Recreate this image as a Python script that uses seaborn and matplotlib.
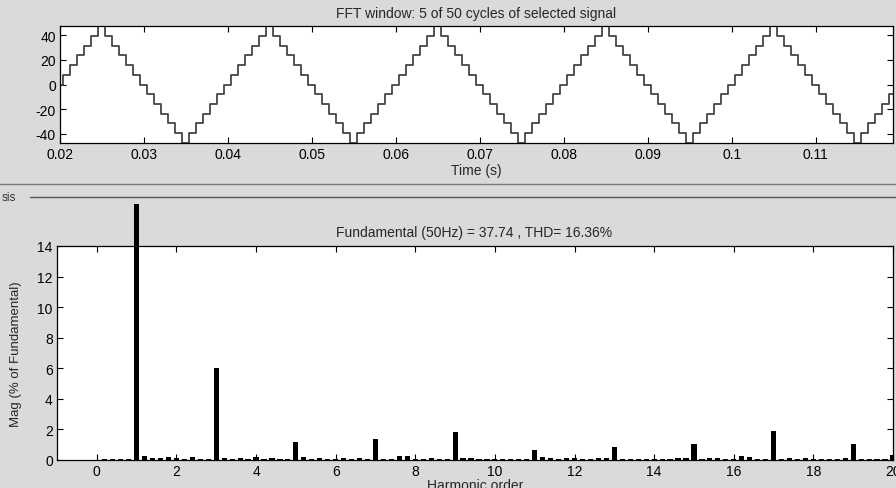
import numpy as np
import seaborn as sns
import matplotlib.pyplot as plt
from matplotlib.transforms import Bbox, TransformedBbox

# waveform: step levels of one cycle, 5 cycles in window
cycle_levels = [0, 7.8, 15.7, 23.5, 31.3, 39.2, 47.0, 39.2, 31.3, 23.5, 15.7, 7.8,
                0, -7.8, -15.7, -23.5, -31.3, -39.2, -47.0, -39.2, -31.3, -23.5, -15.7, -7.8]
n_cycles = 5
t_start = 0.02
t_step = 1 / 1200

# harmonic spectrum, 0.2 order resolution (0 .. 20)
orders = np.round(np.arange(0, 20.01, 0.2), 1)
mags = [0.02,
        0.09, 0.09, 0.09, 0.09, 100.0,
        0.24, 0.12, 0.14, 0.17, 0.12,
        0.09, 0.17, 0.09, 0.09, 6.0,
        0.12, 0.09, 0.11, 0.09, 0.19,
        0.09, 0.12, 0.09, 0.09, 1.2,
        0.18, 0.09, 0.12, 0.08, 0.09,
        0.11, 0.09, 0.12, 0.09, 1.38,
        0.07, 0.07, 0.24, 0.24, 0.09,
        0.09, 0.11, 0.09, 0.09, 1.82,
        0.16, 0.11, 0.09, 0.09, 0.08,
        0.07, 0.07, 0.07, 0.09, 0.68,
        0.17, 0.16, 0.09, 0.12, 0.14,
        0.09, 0.09, 0.16, 0.16, 0.85,
        0.07, 0.07, 0.07, 0.07, 0.07,
        0.07, 0.09, 0.11, 0.16, 1.07,
        0.09, 0.11, 0.11, 0.09, 0.09,
        0.24, 0.17, 0.09, 0.09, 1.9,
        0.09, 0.11, 0.09, 0.11, 0.09,
        0.07, 0.09, 0.09, 0.16, 1.02,
        0.09, 0.09, 0.09, 0.07, 0.3]

fund_text = 'Fundamental (50Hz) = 37.74 , THD= 16.36%'

wave = np.tile(cycle_levels, n_cycles)
t = t_start + np.arange(len(wave)) * t_step

sns.set_style('ticks')
plt.rcParams['font.family'] = ['Liberation Sans', 'DejaVu Sans']
plt.rcParams['axes.unicode_minus'] = False
plt.rcParams['xtick.direction'] = 'in'
plt.rcParams['ytick.direction'] = 'in'

W, H = 896, 489
bg = '#dadada'
fs = 10
fig = plt.figure(figsize=(W / 100, H / 100), dpi=100, facecolor=bg)

# top panel - time signal
ax1 = fig.add_axes([60 / W, 1 - 144 / H, 833 / W, 117 / H])
sns.lineplot(x=t, y=wave, ax=ax1, color='#454545', linewidth=1.3,
             drawstyle='steps-mid', estimator=None)
ax1.set_xlim(0.02, 0.1192)
ax1.set_ylim(-47.3, 47.3)
ax1.set_xticks([0.02, 0.03, 0.04, 0.05, 0.06, 0.07, 0.08, 0.09, 0.1, 0.11])
ax1.set_xticklabels(['0.02', '0.03', '0.04', '0.05', '0.06', '0.07', '0.08', '0.09', '0.1', '0.11'])
ax1.set_yticks([-40, -20, 0, 20, 40])
ax1.set_xlabel('Time (s)', fontsize=fs, labelpad=1)
fig.text(476 / W, 1 - 14 / H, 'FFT window: 5 of 50 cycles of selected signal',
         ha='center', va='center', fontsize=fs)

# bottom panel - spectrum
ax2 = fig.add_axes([57 / W, 1 - 461 / H, 836 / W, 214 / H])
sns.barplot(x=orders, y=mags, ax=ax2, native_scale=True, color='black',
            width=0.65, saturation=1, edgecolor='none')
ax2.set_xlim(-1, 20)
ax2.set_ylim(0, 14)
ax2.set_xticks(range(0, 21, 2))
ax2.set_xticklabels([str(v) for v in range(0, 21, 2)])
ax2.set_yticks(range(0, 15, 2))
ax2.set_xlabel('Harmonic order', fontsize=fs, labelpad=0)
ax2.set_ylabel('Mag (% of Fundamental)', fontsize=9.5, labelpad=11)
fig.text(474 / W, 1 - 233 / H, fund_text, ha='center', va='center', fontsize=fs)

# fundamental bar runs above the axes up to the panel line
clip = TransformedBbox(Bbox([[0, 0], [1, 1 - 205 / H]]), fig.transFigure)
for p in ax2.patches:
    if p.get_height() > 50:
        p.set_clip_path(None)
        p.set_clip_box(clip)

for ax in (ax1, ax2):
    ax.set_facecolor('white')
    ax.tick_params(top=True, right=True, length=4, width=0.8, labelsize=fs,
                   colors='black', pad=3)
    for s in ax.spines.values():
        s.set_visible(True)
        s.set_color('black')
        s.set_linewidth(0.9)

# panel separator lines
fig.add_artist(plt.Line2D([0, 1], [1 - 185 / H] * 2, color='#777777', lw=1))
fig.add_artist(plt.Line2D([30 / W, 1], [1 - 198 / H] * 2, color='#555555', lw=1))
fig.text(2 / W, 1 - 198 / H, 'sis', ha='left', va='center', fontsize=8.5, color='#333333')

fig.savefig('out.png', dpi=100, facecolor=bg)
